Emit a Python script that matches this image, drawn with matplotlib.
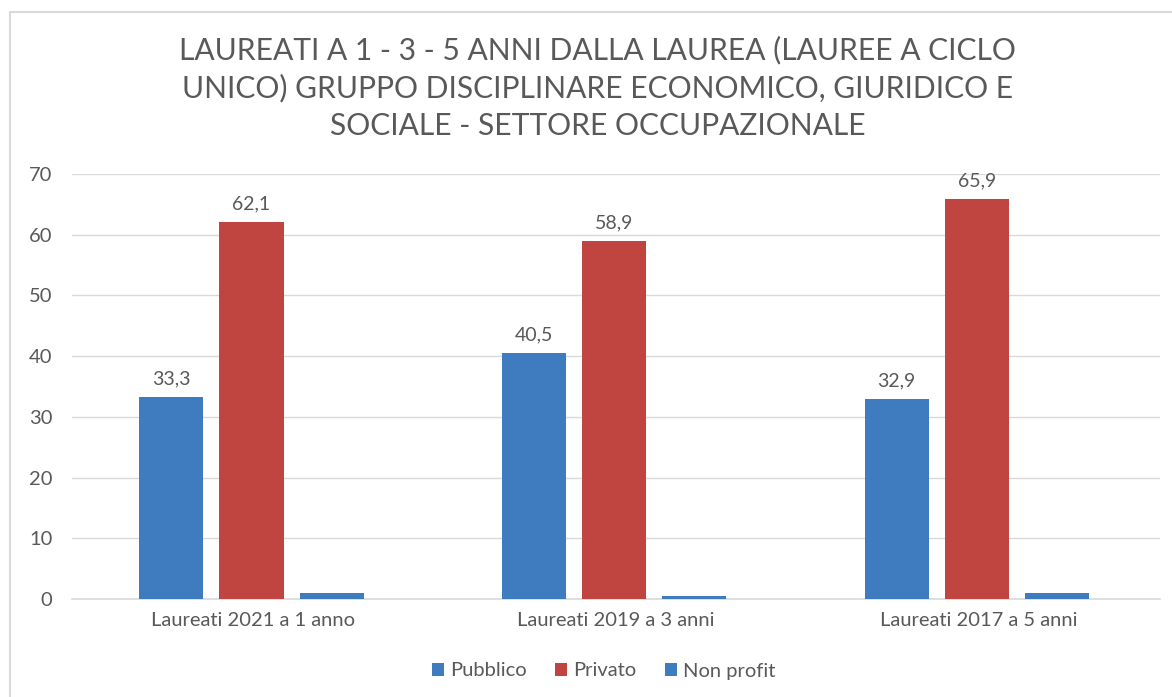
import numpy as np
import matplotlib.pyplot as plt
from matplotlib.patches import Rectangle

plt.rcParams['font.family'] = ['Lato', 'DejaVu Sans']

categories = ['Laureati 2021 a 1 anno', 'Laureati 2019 a 3 anni', 'Laureati 2017 a 5 anni']
series = ['Pubblico', 'Privato', 'Non profit']
pubblico = [33.3, 40.5, 32.9]
privato = [62.1, 58.9, 65.9]
non_profit = [1.0, 0.5, 1.0]
show_labels = [True, True, False]
colors = ['#3F7CBF', '#C0443F', '#3F7CBF']
text_col = '#595959'

fig = plt.figure(figsize=(11.72, 6.97), dpi=100)
# chart border
fig.patches.append(Rectangle((10 / 1172, -0.1), 1.2, (697 - 12) / 697 + 0.1,
                             transform=fig.transFigure, fill=False,
                             edgecolor='#D9D9D9', linewidth=1.5))

ax = fig.add_axes([72 / 1172, 1 - 599 / 697, (1160 - 72) / 1172, (599 - 174) / 697])

x = np.arange(len(categories))
width = 64 / 362
step = 80 / 362
for i, (name, vals) in enumerate(zip(series, [pubblico, privato, non_profit])):
    bars = ax.bar(x + (i - 1) * step - 0.005, vals, width, color=colors[i], label=name, zorder=3)
    if show_labels[i]:
        for b, v in zip(bars, vals):
            ax.text(b.get_x() + b.get_width() / 2, v + 1.6, f'{v:.1f}'.replace('.', ','),
                    ha='center', va='bottom', fontsize=14, color=text_col)

ax.set_xlim(-0.5, 2.5)
ax.set_ylim(0, 70)
ax.set_yticks(range(0, 71, 10))
ax.set_xticks(x)
ax.set_xticklabels(categories)
ax.yaxis.grid(True, color='#D9D9D9', linewidth=1)
ax.set_axisbelow(True)
for s in ['top', 'right', 'left']:
    ax.spines[s].set_visible(False)
ax.spines['bottom'].set_color('#D9D9D9')
ax.spines['bottom'].set_linewidth(1.2)
ax.tick_params(axis='both', length=0, labelsize=14.5, colors=text_col)
ax.tick_params(axis='x', pad=9)
ax.tick_params(axis='y', pad=14)

fig.text(0.51, 0.874, 'LAUREATI A 1 - 3 - 5 ANNI DALLA LAUREA (LAUREE A CICLO\n'
         'UNICO) GRUPPO DISCIPLINARE ECONOMICO, GIURIDICO E\n'
         'SOCIALE - SETTORE OCCUPAZIONALE',
         ha='center', va='center', fontsize=21.6, color=text_col, linespacing=1.4)

fig.legend(loc='center', bbox_to_anchor=(0.515, 1 - 671 / 697), ncol=3, frameon=False,
           fontsize=14.5, labelcolor=text_col, handlelength=0.6, handleheight=0.6,
           handletextpad=0.3, columnspacing=1.4)

fig.savefig('out.png', dpi=100)
